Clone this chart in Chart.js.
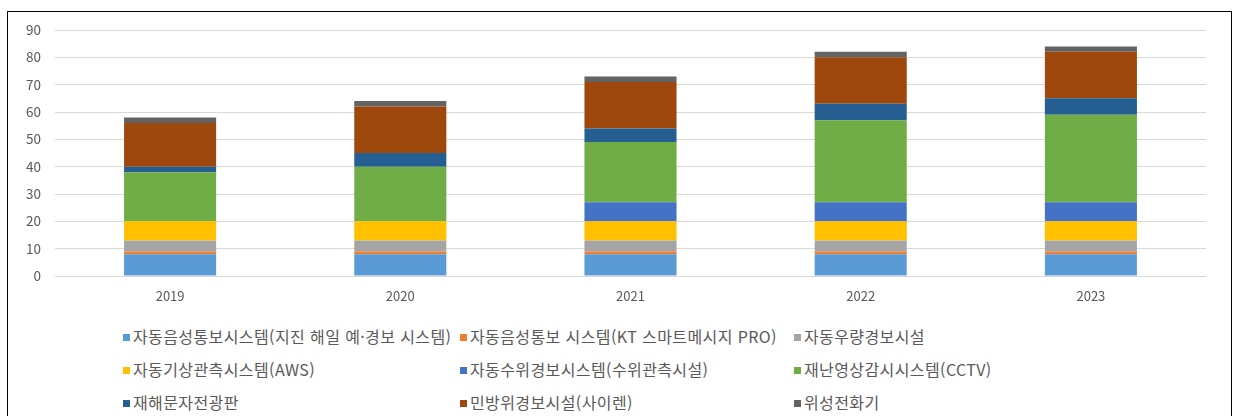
<!DOCTYPE html>
<html lang="ko">
<head>
<meta charset="utf-8">
<script src="https://cdn.jsdelivr.net/npm/chart.js@4"></script>
<style>
  html, body { margin: 0; padding: 0; background: #fff; }
  body { width: 1237px; height: 416px; position: relative; overflow: hidden;
         font-family: "Noto Sans CJK KR", "Noto Sans", sans-serif; }
  #frame { position: absolute; left: 7px; top: 11px; width: 1223px; height: 430px;
           border: 1.5px solid #000; border-bottom: none; }
  #myChart { position: absolute; left: 0; top: 0; }
  .lg { position: absolute; font-size: 16px; color: #595959; white-space: nowrap; line-height: 20px; letter-spacing: 0.4px; }
  .lg i { display: inline-block; width: 7px; height: 7px; margin-right: 3px; vertical-align: 2px; }
</style>
</head>
<body>
<div id="frame"></div>
<canvas id="myChart" width="1237" height="310"></canvas>
<div id="legend"></div>
<script>
// Daten
const years = ['2019', '2020', '2021', '2022', '2023'];
const yTicks = [0, 10, 20, 30, 40, 50, 60, 70, 80, 90];

const voiceQuake = [8, 8, 8, 8, 8];        // 자동음성통보시스템(지진 해일 예·경보 시스템)
const voiceKT = [1, 1, 1, 1, 1];           // 자동음성통보 시스템(KT 스마트메시지 PRO)
const rainAlarm = [4, 4, 4, 4, 4];         // 자동우량경보시설
const aws = [7, 7, 7, 7, 7];               // 자동기상관측시스템(AWS)
const waterLevel = [0, 0, 7, 7, 7];        // 자동수위경보시스템(수위관측시설)
const cctv = [18, 20, 22, 30, 32];         // 재난영상감시시스템(CCTV)
const textBoard = [2, 5, 5, 6, 6];         // 재해문자전광판
const siren = [16, 17, 17, 17, 17];        // 민방위경보시설(사이렌)
const satPhone = [2, 2, 2, 2, 2];          // 위성전화기

const seriesNames = [
  '자동음성통보시스템(지진 해일 예·경보 시스템)',
  '자동음성통보 시스템(KT 스마트메시지 PRO)',
  '자동우량경보시설',
  '자동기상관측시스템(AWS)',
  '자동수위경보시스템(수위관측시설)',
  '재난영상감시시스템(CCTV)',
  '재해문자전광판',
  '민방위경보시설(사이렌)',
  '위성전화기'
];
const seriesData = [voiceQuake, voiceKT, rainAlarm, aws, waterLevel, cctv, textBoard, siren, satPhone];
const seriesColors = ['#5B9BD5', '#ED7D31', '#A5A5A5', '#FFC000', '#4472C4', '#70AD47', '#255E91', '#9E480E', '#636363'];

const ctx = document.getElementById('myChart').getContext('2d');

const myChart = new Chart(ctx, {
  type: 'bar',
  data: {
    labels: years,
    datasets: seriesData.map((d, i) => ({
      label: seriesNames[i],
      data: d,
      backgroundColor: seriesColors[i],
      borderWidth: 0,
      categoryPercentage: 1,
      barPercentage: 0.4
    }))
  },
  options: {
    responsive: false,
    animation: false,
    layout: { padding: { top: 30, right: 31, left: 0, bottom: 0 } },
    plugins: { legend: { display: false }, tooltip: { enabled: false } },
    scales: {
      x: {
        stacked: true,
        grid: { display: false, drawTicks: false },
        border: { display: false },
        ticks: { color: '#595959', font: { family: '"Noto Sans CJK KR"', size: 13 }, padding: 12 },
        afterFit: s => { s.height = 34; }
      },
      y: {
        stacked: true,
        min: 0,
        max: yTicks[yTicks.length - 1],
        afterBuildTicks: s => { s.ticks = yTicks.map(v => ({ value: v })); },
        grid: { color: '#D9D9D9', lineWidth: 1, drawTicks: false },
        border: { display: false },
        ticks: { color: '#595959', font: { family: '"Noto Sans CJK KR"', size: 13.5 }, padding: 14 },
        afterFit: s => { s.width = 55; }
      }
    }
  }
});

// Legende (3 Spalten, wie im Original)
const colX = [123, 460, 794];
const rowY = [326, 359, 392];
const legend = document.getElementById('legend');
seriesNames.forEach((name, i) => {
  const el = document.createElement('div');
  el.className = 'lg';
  el.style.left = colX[i % 3] + 'px';
  el.style.top = rowY[Math.floor(i / 3)] + 'px';
  el.innerHTML = '<i style="background:' + seriesColors[i] + '"></i>' + name;
  legend.appendChild(el);
});
</script>
</body>
</html>
